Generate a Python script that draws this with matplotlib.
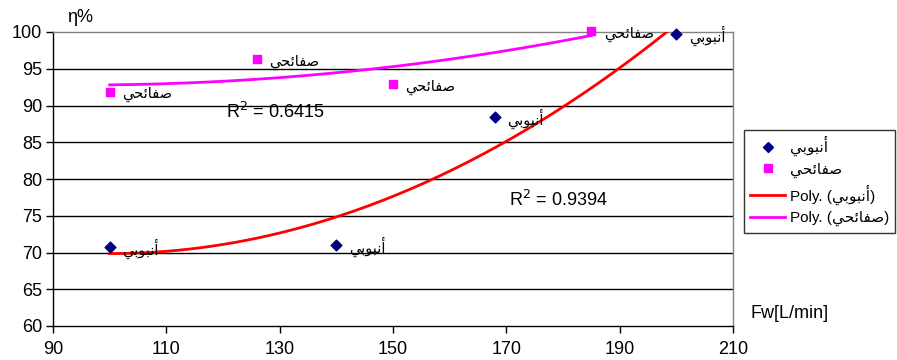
import numpy as np
import matplotlib
matplotlib.use("Agg")
import matplotlib.pyplot as plt
from matplotlib.lines import Line2D

plt.rcParams['font.family'] = ['Liberation Sans', 'DejaVu Sans']

# Series data: water flow Fw [L/min] vs efficiency η [%]
tube_name = "أنبوبي"
tube_fw = [100, 140, 168, 200]
tube_eff = [70.8, 71.0, 88.5, 99.7]

plate_name = "صفائحي"
plate_fw = [100, 126, 150, 185]
plate_eff = [91.9, 96.3, 92.9, 100.1]

tube_r2_text = "R$^2$ = 0.9394"
plate_r2_text = "R$^2$ = 0.6415"

x_ticks = [90, 110, 130, 150, 170, 190, 210]
y_ticks = [60, 65, 70, 75, 80, 85, 90, 95, 100]

# Minimal Arabic shaper (presentation forms, visual order) since the
# text renderer does not do contextual shaping or bidi reordering.
_FORMS = {
    'ا': ('\uFE8D', '\uFE8E', None, None),
    'أ': ('\uFE83', '\uFE84', None, None),
    'و': ('\uFEED', '\uFEEE', None, None),
    'ب': ('\uFE8F', '\uFE90', '\uFE91', '\uFE92'),
    'ن': ('\uFEE5', '\uFEE6', '\uFEE7', '\uFEE8'),
    'ي': ('\uFEF1', '\uFEF2', '\uFEF3', '\uFEF4'),
    'ص': ('\uFEB9', '\uFEBA', '\uFEBB', '\uFEBC'),
    'ف': ('\uFED1', '\uFED2', '\uFED3', '\uFED4'),
    'ئ': ('\uFE89', '\uFE8A', '\uFE8B', '\uFE8C'),
    'ح': ('\uFEA1', '\uFEA2', '\uFEA3', '\uFEA4'),
}


def _dual(c):
    return c in _FORMS and _FORMS[c][2] is not None


def shape(word):
    out = []
    for i, c in enumerate(word):
        prev_joins = i > 0 and _dual(word[i - 1])
        next_joins = i < len(word) - 1 and _dual(c) and word[i + 1] in _FORMS
        iso, fin, ini, med = _FORMS[c]
        if prev_joins and next_joins:
            out.append(med)
        elif prev_joins:
            out.append(fin)
        elif next_joins:
            out.append(ini)
        else:
            out.append(iso)
    return ''.join(reversed(out))


tube_label = shape(tube_name)
plate_label = shape(plate_name)

FS = 13

fig = plt.figure(figsize=(8.97, 3.6), dpi=100)
ax = fig.add_axes([53 / 897, 1 - 326 / 360, 680 / 897, 294 / 360])

ax.set_xlim(90, 210)
ax.set_ylim(60, 100)
ax.set_xticks(x_ticks)
ax.set_yticks(y_ticks)
ax.tick_params(axis='both', direction='out', length=5, width=1, labelsize=FS,
               colors='black', pad=3)
ax.tick_params(axis='x', pad=6)

for s in ('left', 'bottom'):
    ax.spines[s].set_color('black')
    ax.spines[s].set_linewidth(1)
for s in ('top', 'right'):
    ax.spines[s].set_color('#808080')
    ax.spines[s].set_linewidth(1)

for yv in y_ticks[1:-1]:
    ax.axhline(yv, color='black', lw=1, zorder=1)

# Second-order polynomial trendlines
tube_coef = np.polyfit(tube_fw, tube_eff, 2)
plate_coef = np.polyfit(plate_fw, plate_eff, 2)
xt = np.linspace(min(tube_fw), max(tube_fw), 200)
xp = np.linspace(min(plate_fw), max(plate_fw), 200)
ax.plot(xt, np.polyval(tube_coef, xt), color='#ff0000', lw=2, zorder=3)
ax.plot(xp, np.polyval(plate_coef, xp), color='#ff00ff', lw=2, zorder=3)

ax.scatter(tube_fw, tube_eff, marker='D', s=30, color='#000080', zorder=4,
           clip_on=False)
ax.scatter(plate_fw, plate_eff, marker='s', s=36, color='#ff00ff', zorder=4,
           clip_on=False)

for xv, yv in zip(tube_fw, tube_eff):
    ax.annotate(tube_label, (xv, yv), xytext=(9, -1.5), textcoords='offset points',
                ha='left', va='center', fontsize=10.5, zorder=5, annotation_clip=False)
for xv, yv in zip(plate_fw, plate_eff):
    ax.annotate(plate_label, (xv, yv), xytext=(9, -2), textcoords='offset points',
                ha='left', va='center', fontsize=10.5, zorder=5, annotation_clip=False)

ax.text(226 / 897, 1 - 112 / 360, plate_r2_text, transform=fig.transFigure,
        fontsize=FS, ha='left', va='center')
ax.text(509 / 897, 1 - 200 / 360, tube_r2_text, transform=fig.transFigure,
        fontsize=FS, ha='left', va='center')

fig.text(67 / 897, 1 - 18 / 360, "η%", fontsize=FS, ha='left', va='center')
fig.text(750 / 897, 1 - 313 / 360, "Fw[L/min]", fontsize=FS, ha='left', va='center')

handles = [
    Line2D([], [], ls='none', marker='D', ms=5.5, color='#000080'),
    Line2D([], [], ls='none', marker='s', ms=6, color='#ff00ff'),
    Line2D([], [], color='#ff0000', lw=2),
    Line2D([], [], color='#ff00ff', lw=2),
]
labels = [tube_label, plate_label,
          "Poly. (" + tube_label + ")", "Poly. (" + plate_label + ")"]
leg = fig.legend(handles, labels, loc='upper left',
                 bbox_to_anchor=(744 / 897, 1 - 130 / 360),
                 frameon=True, fancybox=False, edgecolor='black',
                 fontsize=11, handlelength=2.3, handletextpad=0.3,
                 labelspacing=0.42, borderpad=0.4, borderaxespad=0)
leg.get_frame().set_linewidth(1)

fig.savefig("out.png", dpi=100, facecolor='white')
